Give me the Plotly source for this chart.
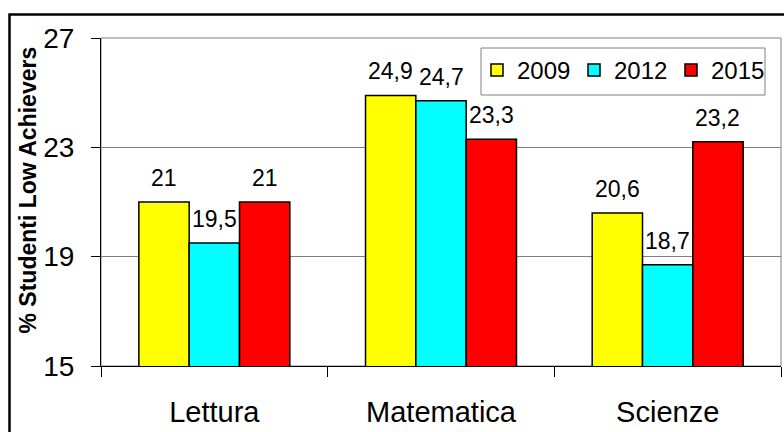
import plotly.graph_objects as go

categories = ["Lettura", "Matematica", "Scienze"]
years = ["2009", "2012", "2015"]
values_2009 = [21.0, 24.9, 20.6]
values_2012 = [19.5, 24.7, 18.7]
values_2015 = [21.0, 23.3, 23.2]
series = [values_2009, values_2012, values_2015]
colors = ["#FFFF00", "#00FFFF", "#FF0000"]
y_ticks = [15, 19, 23, 27]
y_title = "% Studenti Low Achievers"

W, H = 784, 432
ML, MR, MT, MB = 101, 3, 38, 66
pw = W - ML - MR
ph = H - MT - MB

def px_x(p):
    return (p - ML) / pw

def px_y(p):
    return (H - MB - p) / ph

fig = go.Figure()
for name, vals, col in zip(years, series, colors):
    fig.add_trace(go.Bar(
        x=categories, y=vals, name=name,
        marker=dict(color=col, line=dict(color="black", width=1.5)),
        hoverinfo="skip",
    ))

bargap = 0.334
cat_px = pw / len(categories)
bar_px = cat_px * (1 - bargap) / len(series)
ann = []
for i, vals in enumerate(series):
    for c, v in zip(categories, vals):
        ann.append(dict(
            x=c, y=v, xref="x", yref="y",
            text=f"{v:g}".replace(".", ","),
            showarrow=False, xanchor="center", yanchor="bottom",
            xshift=(i - 1) * bar_px, yshift=9,
            font=dict(size=23, color="black"),
        ))
ann.append(dict(
    x=px_x(27.5), y=px_y(190), xref="paper", yref="paper",
    text=f"<b>{y_title}</b>", textangle=-90, showarrow=False,
    xanchor="center", yanchor="middle",
    font=dict(size=23, color="black"),
))

fig.update_layout(
    width=W, height=H,
    margin=dict(l=ML, r=MR, t=MT, b=MB, pad=0),
    paper_bgcolor="white", plot_bgcolor="white",
    font=dict(family="Liberation Sans, Arial, sans-serif", color="black"),
    barmode="group", bargap=bargap, bargroupgap=0,
    showlegend=True,
    legend=dict(
        orientation="h", x=px_x(477), y=px_y(48), xanchor="left", yanchor="top",
        borderwidth=0, bgcolor="rgba(0,0,0,0)",
        font=dict(size=24, color="black"), traceorder="normal",
        entrywidth=52, entrywidthmode="pixels",
    ),
    annotations=ann,
    shapes=[
        dict(type="rect", xref="paper", yref="paper", x0=0, x1=1, y0=0, y1=1,
             line=dict(color="#808080", width=1), layer="below"),
        dict(type="rect", xref="paper", yref="paper",
             x0=px_x(481), x1=px_x(765), y0=px_y(95), y1=px_y(48),
             line=dict(color="#808080", width=1), fillcolor="white", layer="above"),
        dict(type="rect", xref="paper", yref="paper",
             x0=px_x(9.5), x1=1.2, y0=-0.5, y1=px_y(14.5),
             line=dict(color="black", width=2.5), layer="above"),
    ],
)
fig.update_xaxes(
    showline=True, linecolor="black", linewidth=1,
    ticks="outside", tickson="boundaries", ticklen=10, tickcolor="black",
    tickfont=dict(size=29, color="black"), ticklabelstandoff=20,
    showgrid=False,
)
fig.update_yaxes(
    range=[15, 27], tickvals=y_ticks, ticktext=[str(t) for t in y_ticks],
    showline=True, linecolor="black", linewidth=1,
    ticks="outside", ticklen=9, tickcolor="black",
    tickfont=dict(size=28, color="black"), ticklabelstandoff=11,
    showgrid=True, gridcolor="#808080", gridwidth=1, zeroline=False,
)
fig.write_html("out.html")
